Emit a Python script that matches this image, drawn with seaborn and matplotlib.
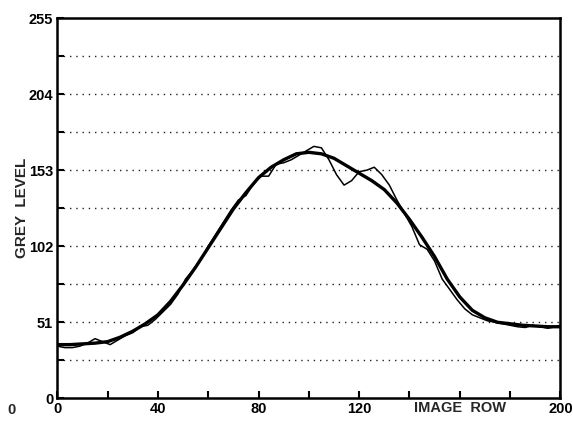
import matplotlib
matplotlib.use("Agg")
import matplotlib.pyplot as plt
import seaborn as sns
import pandas as pd

# Smooth (fitted) curve
smooth_x = [0, 5, 10, 15, 20, 25, 30, 35, 40, 45, 50, 55, 60, 65, 70, 75, 80, 85, 90, 95,
            100, 105, 110, 115, 120, 125, 130, 135, 140, 145, 150, 155, 160, 165, 170, 175,
            180, 185, 190, 195, 200]
smooth_y = [36, 36, 36.5, 37, 38, 41, 45, 50, 56, 65, 76, 88, 101, 114, 127, 138, 148, 155,
            160, 164, 165, 164, 161, 156, 151, 146, 140, 131, 120, 108, 95, 80, 68, 59, 54,
            51, 50, 49, 48.5, 48, 48]

# Measured (noisy) profile
raw_x = [0, 3, 6, 9, 12, 15, 18, 21, 24, 27, 30, 33, 36, 39, 42, 45, 48, 51, 54, 57, 60,
         63, 66, 69, 72, 75, 78, 81, 84, 87, 90, 93, 96, 99, 102, 105, 108, 111, 114, 117,
         120, 123, 126, 129, 132, 135, 138, 141, 144, 147, 150, 153, 156, 159, 162, 165,
         168, 171, 174, 177, 180, 183, 186, 189, 192, 195, 198, 200]
raw_y = [35, 34, 34, 35, 37, 40, 38, 36, 39, 42, 44, 48, 49, 53, 58, 63, 70, 80, 86, 93, 102,
         110, 118, 126, 133, 136, 144, 149, 149, 157, 158, 160, 163, 166, 169, 168, 160, 150,
         143, 146, 152, 153, 155, 150, 143, 133, 124, 115, 103, 100, 92, 80, 73, 66, 60, 56,
         54, 52, 51, 50, 49, 48, 47.5, 49, 48, 47, 48, 49]

x_ticks = [0, 20, 40, 60, 80, 100, 120, 140, 160, 180, 200]
x_ticklabels = ["0", "", "40", "", "80", "", "120", "", "", "", "200"]
y_ticks = [0, 25.5, 51, 76.5, 102, 127.5, 153, 178.5, 204, 229.5, 255]
y_ticklabels = ["0", "", "51", "", "102", "", "153", "", "204", "", "255"]
grid_levels = [25.5, 51, 76.5, 102, 127.5, 153, 178.5, 204, 229.5]

sns.set_theme(style="ticks")
plt.rcParams["font.family"] = ["Liberation Sans", "DejaVu Sans"]

fig = plt.figure(figsize=(5.73, 4.32), dpi=100)
ax = fig.add_axes([0.1, 0.078, 0.878, 0.88])

df_s = pd.DataFrame({"x": smooth_x, "y": smooth_y})
df_r = pd.DataFrame({"x": raw_x, "y": raw_y})

for g in grid_levels:
    ax.axhline(g, color="#222222", linestyle=(0, (1, 3.5)), linewidth=1.0, zorder=1)

sns.lineplot(data=df_r, x="x", y="y", ax=ax, color="black", linewidth=1.1, zorder=3)
sns.lineplot(data=df_s, x="x", y="y", ax=ax, color="black", linewidth=2.4, zorder=4)

ax.set_xlim(0, 200)
ax.set_ylim(0, 255)

ax.set_xticks(x_ticks)
ax.set_xticklabels(x_ticklabels)
ax.set_yticks(y_ticks)
ax.set_yticklabels(y_ticklabels)

ax.tick_params(axis="both", direction="in", length=5, width=1.5, colors="black",
               labelsize=10.5, pad=3)
for lab in ax.get_xticklabels() + ax.get_yticklabels():
    lab.set_fontweight("bold")

for sp in ax.spines.values():
    sp.set_visible(True)
    sp.set_linewidth(1.8)
    sp.set_color("black")

ax.set_xlabel("")
ax.set_ylabel("GREY  LEVEL", fontsize=11, fontweight="bold", labelpad=0)

ax.text(160, -2, "IMAGE  ROW", ha="center", va="top", fontsize=10.5, fontweight="bold",
        transform=ax.transData)
fig.text(0.012, 0.05, "0", ha="left", va="center", fontsize=10.5, fontweight="bold")

fig.savefig("out.png", dpi=100)
